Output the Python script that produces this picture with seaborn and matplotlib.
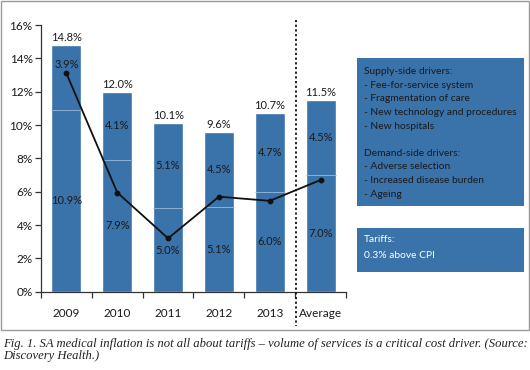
import numpy as np
import pandas as pd
import matplotlib
matplotlib.use("Agg")
import matplotlib.pyplot as plt
from matplotlib.patches import Rectangle
from matplotlib.lines import Line2D
import seaborn as sns

# Data
categorias = ['2009', '2010', '2011', '2012', '2013', 'Average']
total = [14.8, 12.0, 10.1, 9.6, 10.7, 11.5]
volumen = [10.9, 7.9, 5.0, 5.1, 6.0, 7.0]      # lower segment
otros = [3.9, 4.1, 5.1, 4.5, 4.7, 4.5]         # upper segment
linea = [13.1, 5.95, 3.2, 5.7, 5.45, 6.7]      # black line
y_ticks = [0, 2, 4, 6, 8, 10, 12, 14, 16]

df = pd.DataFrame({'cat': categorias, 'total': total, 'vol': volumen,
                   'otros': otros, 'linea': linea})

# Setup
sns.set_theme(style="white")
plt.rcParams['font.family'] = ['Lato', 'DejaVu Sans']
azul = '#3a72aa'
texto = '#1a1a1a'

W, H = 530, 370
fig = plt.figure(figsize=(W / 100, H / 100), dpi=100)

def px(x, y):
    return x / W, 1 - y / H

# main axes
x0, y_top, x1, y_bot = 41, 25, 346, 291.7
ax = fig.add_axes([x0 / W, 1 - y_bot / H, (x1 - x0) / W, (y_bot - y_top) / H])

ancho = 0.59
sns.barplot(data=df, x='cat', y='total', color=azul, saturation=1, width=ancho,
            ax=ax, order=categorias)
xs = np.arange(len(categorias))
ax.hlines(df['vol'], xs - ancho / 2, xs + ancho / 2, color='#8cb0d4', lw=0.7)

sns.pointplot(data=df, x='cat', y='linea', color='#111111', markers='o',
              markersize=3.2, linewidth=1.3, ax=ax, order=categorias)

# labels
for i, row in df.iterrows():
    ax.text(i, row['total'] + 0.45, f"{row['total']:.1f}%", ha='center', va='center',
            fontsize=8, color=texto)
    nudge = 0.8 if i == 0 else 0
    ax.text(i, (row['vol'] + row['total']) / 2 + nudge, f"{row['otros']:.1f}%",
            ha='center', va='center', fontsize=8, color=texto)
    ax.text(i, row['vol'] / 2, f"{row['vol']:.1f}%", ha='center', va='center',
            fontsize=8, color=texto)

ax.set_ylim(0, 16)
ax.set_xlim(-0.5, len(categorias) - 0.5)
ax.set_yticks(y_ticks)
ax.set_yticklabels([f"{t}%" for t in y_ticks], fontsize=8.5, color=texto)
ax.set_xticks(xs)
ax.set_xticklabels(categorias, fontsize=8.5, color=texto)
ax.set_xticks(np.arange(-0.5, len(categorias)), minor=True)
ax.tick_params(axis='x', which='major', length=0, pad=12)
ax.tick_params(axis='x', which='minor', length=4, width=0.9, color='#333333',
               direction='out', bottom=True)
ax.tick_params(axis='y', length=4, width=0.9, color='#333333', direction='out',
               left=True, pad=2)
ax.set_xlabel('')
ax.set_ylabel('')
for s in ['top', 'right']:
    ax.spines[s].set_visible(False)
for s in ['left', 'bottom']:
    ax.spines[s].set_color('#333333')
    ax.spines[s].set_linewidth(0.9)

# dotted divider before Average
xd = 295.5
fig.add_artist(Line2D([xd / W, xd / W], [1 - 20 / H, 1 - 326 / H], color='#111111',
                      lw=1.3, linestyle=(0, (1.2, 1.4)), transform=fig.transFigure))

# text boxes
bx, bw = 357, 167
fig.add_artist(Rectangle(px(bx, 206), bw / W, 148 / H, facecolor=azul,
                         edgecolor='none', transform=fig.transFigure))
fig.add_artist(Rectangle(px(bx, 272), bw / W, 44.5 / H, facecolor=azul,
                         edgecolor='none', transform=fig.transFigure))

lineas_caja = ['Supply-side drivers:', '- Fee-for-service system',
               '- Fragmentation of care', '- New technology and procedures',
               '- New hospitals', '', 'Demand-side drivers:', '- Adverse selection',
               '- Increased disease burden', '- Ageing']
y0 = 71.7
for k, t in enumerate(lineas_caja):
    fig.text(*px(364, y0 + k * 13.6), t, fontsize=7.4, color=texto, va='center')
fig.text(*px(364, 240), 'Tariffs:', fontsize=7.4, color='white', va='center')
fig.text(*px(364, 256), '0.3% above CPI', fontsize=7.4, color='white', va='center')

# outer frame
fig.add_artist(Rectangle(px(1, 330), 527.5 / W, 329 / H, facecolor='none',
                         edgecolor='#9a9a9a', lw=1.0, transform=fig.transFigure))

# caption
cap = ("Fig. 1. SA medical inflation is not all about tariffs \u2013 volume of services "
       "is a critical cost driver. (Source:\nDiscovery Health.)")
fig.text(*px(3, 338.5), cap, fontsize=9.05, style='italic', family='Liberation Serif',
         color='#222222', va='top', linespacing=0.95)

plt.savefig('out.png', dpi=100)
